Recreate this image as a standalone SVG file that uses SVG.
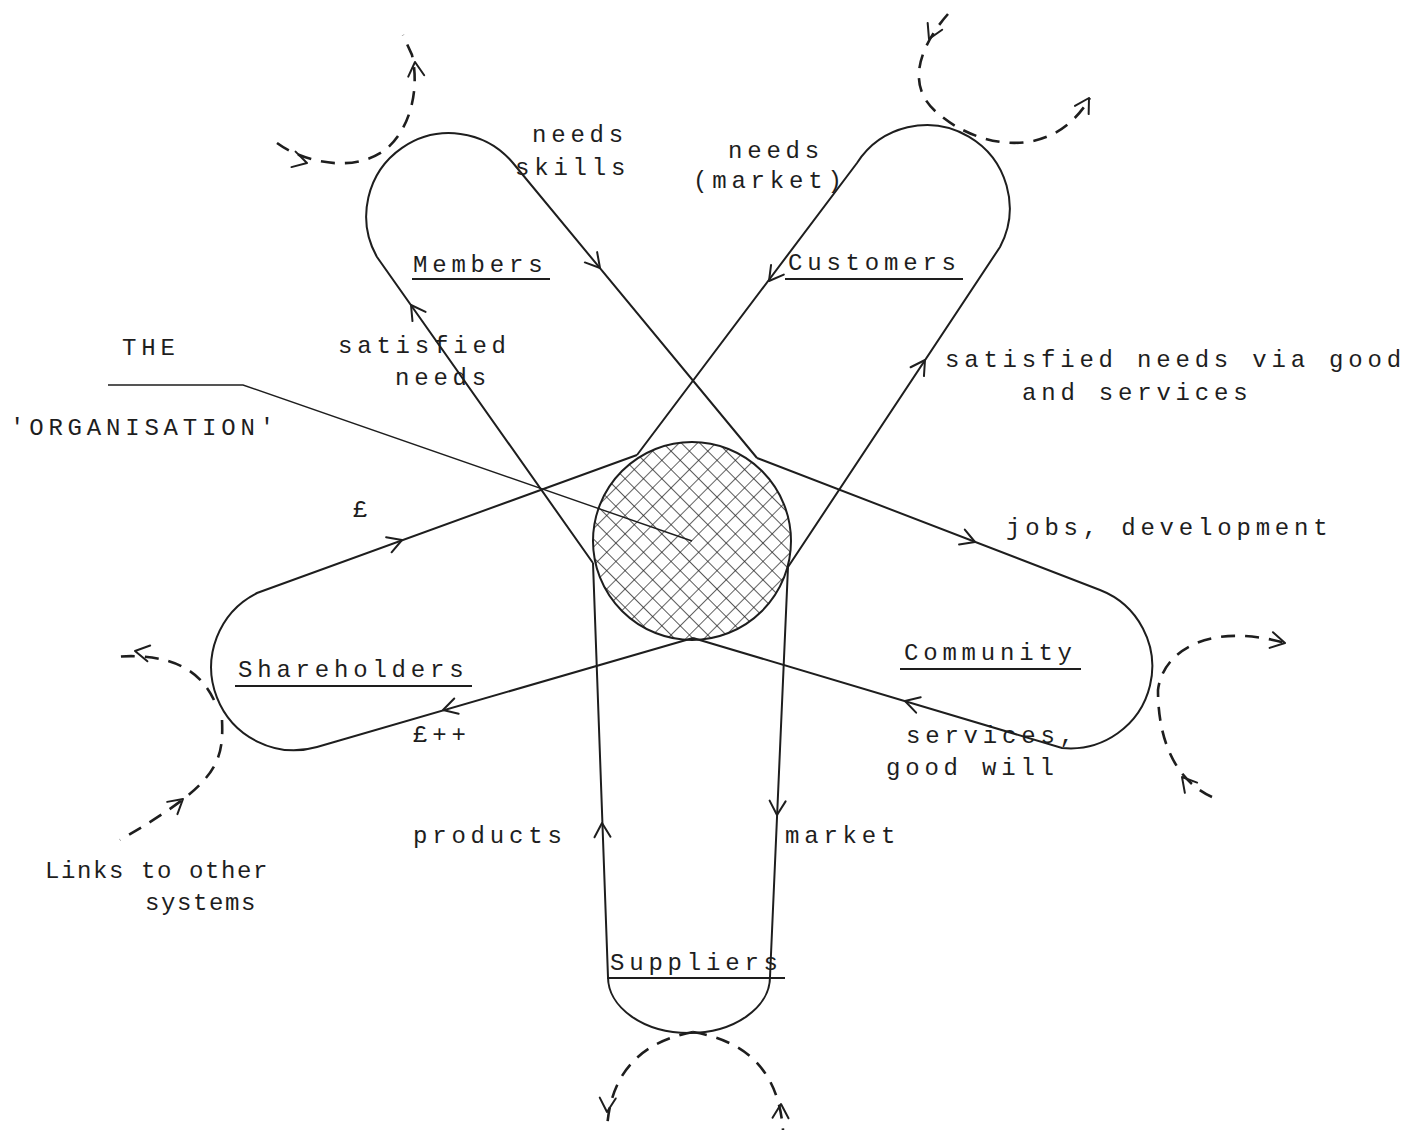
<svg xmlns="http://www.w3.org/2000/svg" width="1410" height="1132" viewBox="0 0 1410 1132">
<style>
.t{font-family:"Liberation Mono","Courier New",monospace;font-size:24px;letter-spacing:4.8px;fill:#1e1e1e}
.t2{font-family:"Liberation Mono","Courier New",monospace;font-size:24px;letter-spacing:1.6px;fill:#1e1e1e}
.loop{fill:none;stroke:#1e1e1e;stroke-width:2}
.dash{fill:none;stroke:#1e1e1e;stroke-width:2.6;stroke-dasharray:14 10}
.ah{fill:none;stroke:#1e1e1e;stroke-width:2;stroke-linecap:round;stroke-linejoin:round}
.ul{stroke:#1e1e1e;stroke-width:2}
.thin{fill:none;stroke:#1e1e1e;stroke-width:1.4}
</style>
<defs>
<pattern id="hatch" width="13" height="13" patternUnits="userSpaceOnUse" patternTransform="rotate(45)">
<path d="M0,0 V13 M0,0 H13" stroke="#222" stroke-width="1.4"/>
</pattern>
<path id="ah" d="M-14,-8 L0,0 L-14,8" class="ah"/>
</defs>
<rect width="1410" height="1132" fill="#fff"/>

<g id="organisation">
<path class="thin" d="M108,385 L243,385 L692,541"/>
<circle cx="692" cy="541" r="99" fill="url(#hatch)" stroke="#1e1e1e" stroke-width="2"/>
<text class="t" x="122" y="355">THE</text>
<text class="t" x="10" y="435">'ORGANISATION'</text>
</g>

<g id="members">
<path class="loop" d="M593,563 L377,257 A83 83 0 0 1 513,163 L757,458"/>
<use href="#ah" transform="translate(411,305) rotate(-125)"/>
<use href="#ah" transform="translate(600,268) rotate(50)"/>
<text class="t" x="413" y="272">Members</text>
<line class="ul" x1="412" y1="279" x2="550" y2="279"/>
<text class="t" x="532" y="142">needs</text>
<text class="t" x="515" y="175">skills</text>
<text class="t" x="338" y="353">satisfied</text>
<text class="t" x="395" y="385">needs</text>
</g>

<g id="customers">
<path class="loop" d="M637,455 L857,163 A83 83 0 0 1 1000,247 L788,567"/>
<use href="#ah" transform="translate(769,281) rotate(127)"/>
<use href="#ah" transform="translate(925,360) rotate(-56.5)"/>
<text class="t" x="788" y="270">Customers</text>
<line class="ul" x1="785" y1="279" x2="963" y2="279"/>
<text class="t" x="728" y="158">needs</text>
<text class="t" x="693" y="188">(market)</text>
<text class="t" x="945" y="367">satisfied needs via good</text>
<text class="t" x="1022" y="400">and services</text>
</g>

<g id="community">
<path class="loop" d="M757,458 L1100,590 A82 82 0 0 1 1062,748 L693,638"/>
<use href="#ah" transform="translate(975,542) rotate(21)"/>
<use href="#ah" transform="translate(905,701) rotate(196.6)"/>
<text class="t" x="904" y="660">Community</text>
<line class="ul" x1="900" y1="669" x2="1081" y2="669"/>
<text class="t" x="1006" y="535">jobs, development</text>
<text class="t" x="906" y="743">services,</text>
<text class="t" x="886" y="775">good will</text>
</g>

<g id="suppliers">
<path class="loop" d="M593,563 L608,977 A81 56 0 0 0 770,977 L788,567"/>
<use href="#ah" transform="translate(602,823) rotate(-92)"/>
<use href="#ah" transform="translate(777,815) rotate(92.5)"/>
<text class="t" x="610" y="970">Suppliers</text>
<line class="ul" x1="607" y1="978" x2="785" y2="978"/>
<text class="t" x="413" y="843">products</text>
<text class="t" x="785" y="843">market</text>
</g>

<g id="shareholders">
<path class="loop" d="M637,455 L257,593 A83 83 0 0 0 317,747 L693,638"/>
<use href="#ah" transform="translate(402,540) rotate(-20)"/>
<use href="#ah" transform="translate(443,710) rotate(164)"/>
<text class="t" x="238" y="677">Shareholders</text>
<line class="ul" x1="235" y1="686" x2="472" y2="686"/>
<text class="t" x="353" y="517">£</text>
<text class="t" x="413" y="742">£++</text>
</g>

<g id="other-systems">
<text class="t2" x="45" y="878">Links to other</text>
<text class="t2" x="145" y="910">systems</text>
</g>

<g id="connectors">
<path class="dash" d="M277,143 C300,160 350,175 385,150 C410,130 420,90 412,55 L403,35"/>
<use href="#ah" transform="translate(307,163) rotate(15)"/>
<use href="#ah" transform="translate(415,62) rotate(-95)"/>
<path class="dash" d="M948,14 C925,40 900,85 940,115 C975,145 1050,165 1090,98"/>
<use href="#ah" transform="translate(929,39) rotate(115)"/>
<use href="#ah" transform="translate(1089,98) rotate(-59)"/>
<path class="dash" d="M1212,797 C1175,780 1158,740 1158,690 C1163,650 1210,622 1285,643"/>
<use href="#ah" transform="translate(1285,643) rotate(12)"/>
<use href="#ah" transform="translate(1182,777) rotate(-130)"/>
<path class="dash" d="M693,1032 C650,1040 610,1065 607,1130"/>
<path class="dash" d="M693,1032 C740,1040 778,1065 783,1130"/>
<use href="#ah" transform="translate(607,1112) rotate(93)"/>
<use href="#ah" transform="translate(781,1104) rotate(-88)"/>
<path class="dash" d="M214,700 C200,670 170,652 113,657"/>
<path class="dash" d="M222,720 C224,765 215,785 120,840"/>
<use href="#ah" transform="translate(135,651) rotate(190)"/>
<use href="#ah" transform="translate(183,799) rotate(-40)"/>
</g>
</svg>
